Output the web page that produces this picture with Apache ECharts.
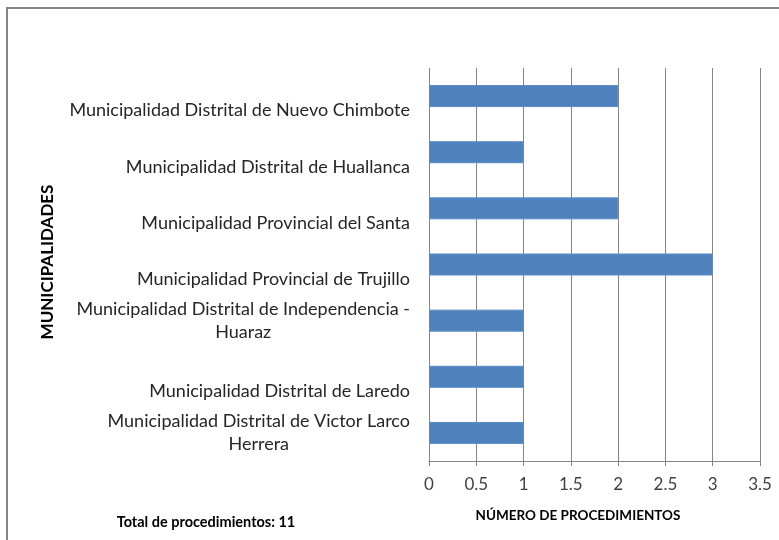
<!DOCTYPE html>
<html>
<head>
<meta charset="utf-8">
<script src="https://cdn.jsdelivr.net/npm/echarts@6/dist/echarts.min.js"></script>
<style>
  html, body { margin: 0; padding: 0; background: #fff; }
  #chart { width: 779px; height: 540px; }
</style>
</head>
<body>
<div id="chart"></div>
<script>
// categories listed top to bottom
const categories = [
  'Municipalidad Distrital de Nuevo Chimbote',
  'Municipalidad Distrital de Huallanca',
  'Municipalidad Provincial del Santa',
  'Municipalidad Provincial de Trujillo',
  'Municipalidad Distrital de Independencia -\nHuaraz',
  'Municipalidad Distrital de Laredo',
  'Municipalidad Distrital de Victor Larco\nHerrera'
];
const values = [2, 1, 2, 3, 1, 1, 1];
const xTicks = { min: 0, max: 3.5, interval: 0.5 };

const font = 'Lato, "Open Sans", sans-serif';
const myChart = echarts.init(document.getElementById('chart'));

myChart.setOption({
  animation: false,
  textStyle: { fontFamily: font, color: '#262626' },
  grid: { left: 429, right: 19, top: 68, bottom: 79 },
  xAxis: {
    type: 'value',
    min: xTicks.min,
    max: xTicks.max,
    interval: xTicks.interval,
    axisLine: { show: true, lineStyle: { color: '#868686', width: 1 } },
    axisTick: { show: true, length: 5, lineStyle: { color: '#868686' } },
    splitLine: { show: true, lineStyle: { color: '#868686', width: 1 } },
    axisLabel: { fontSize: 17, color: '#404040', margin: 15, fontFamily: font }
  },
  yAxis: {
    type: 'category',
    inverse: true,
    data: categories,
    axisLine: { show: false },
    axisTick: { show: false },
    axisLabel: {
      margin: 19,
      fontSize: 18,
      color: '#262626',
      fontFamily: font,
      lineHeight: 23,
      // one-line names sit low, as in the original (blank line above them)
      formatter: (v) => {
        const lines = v.split('\n');
        if (lines.length === 1) return '{e| }\n{c|' + lines[0] + '}';
        return lines.map(s => '{c|' + s + '}').join('\n');
      },
      rich: {
        c: { align: 'center', fontSize: 18, fontFamily: font, lineHeight: 23, color: '#262626' },
        e: { fontSize: 18, fontFamily: font, lineHeight: 29 }
      }
    }
  },
  series: [{
    type: 'bar',
    data: values,
    barWidth: 22,
    itemStyle: { color: '#4F81BD', borderColor: '#5B8BC6', borderWidth: 1 }
  }],
  graphic: [
    {
      type: 'rect',
      shape: { x: 7, y: 8, width: 800, height: 560 },
      style: { fill: 'none', stroke: '#868686', lineWidth: 2 },
      silent: true
    },
    {
      type: 'text',
      x: 48, y: 262,
      rotation: Math.PI / 2,
      style: { text: 'MUNICIPALIDADES', font: 'bold 17px ' + font, fill: '#000', textAlign: 'center', textVerticalAlign: 'middle' }
    },
    {
      type: 'text',
      x: 578, y: 516,
      style: { text: 'NÚMERO DE PROCEDIMIENTOS', font: 'bold 13.5px ' + font, fill: '#000', textAlign: 'center', textVerticalAlign: 'middle' }
    },
    {
      type: 'text',
      x: 206, y: 522,
      style: { text: 'Total de procedimientos: 11', font: 'bold 14.5px ' + font, fill: '#000', textAlign: 'center', textVerticalAlign: 'middle' }
    }
  ]
});
</script>
</body>
</html>
